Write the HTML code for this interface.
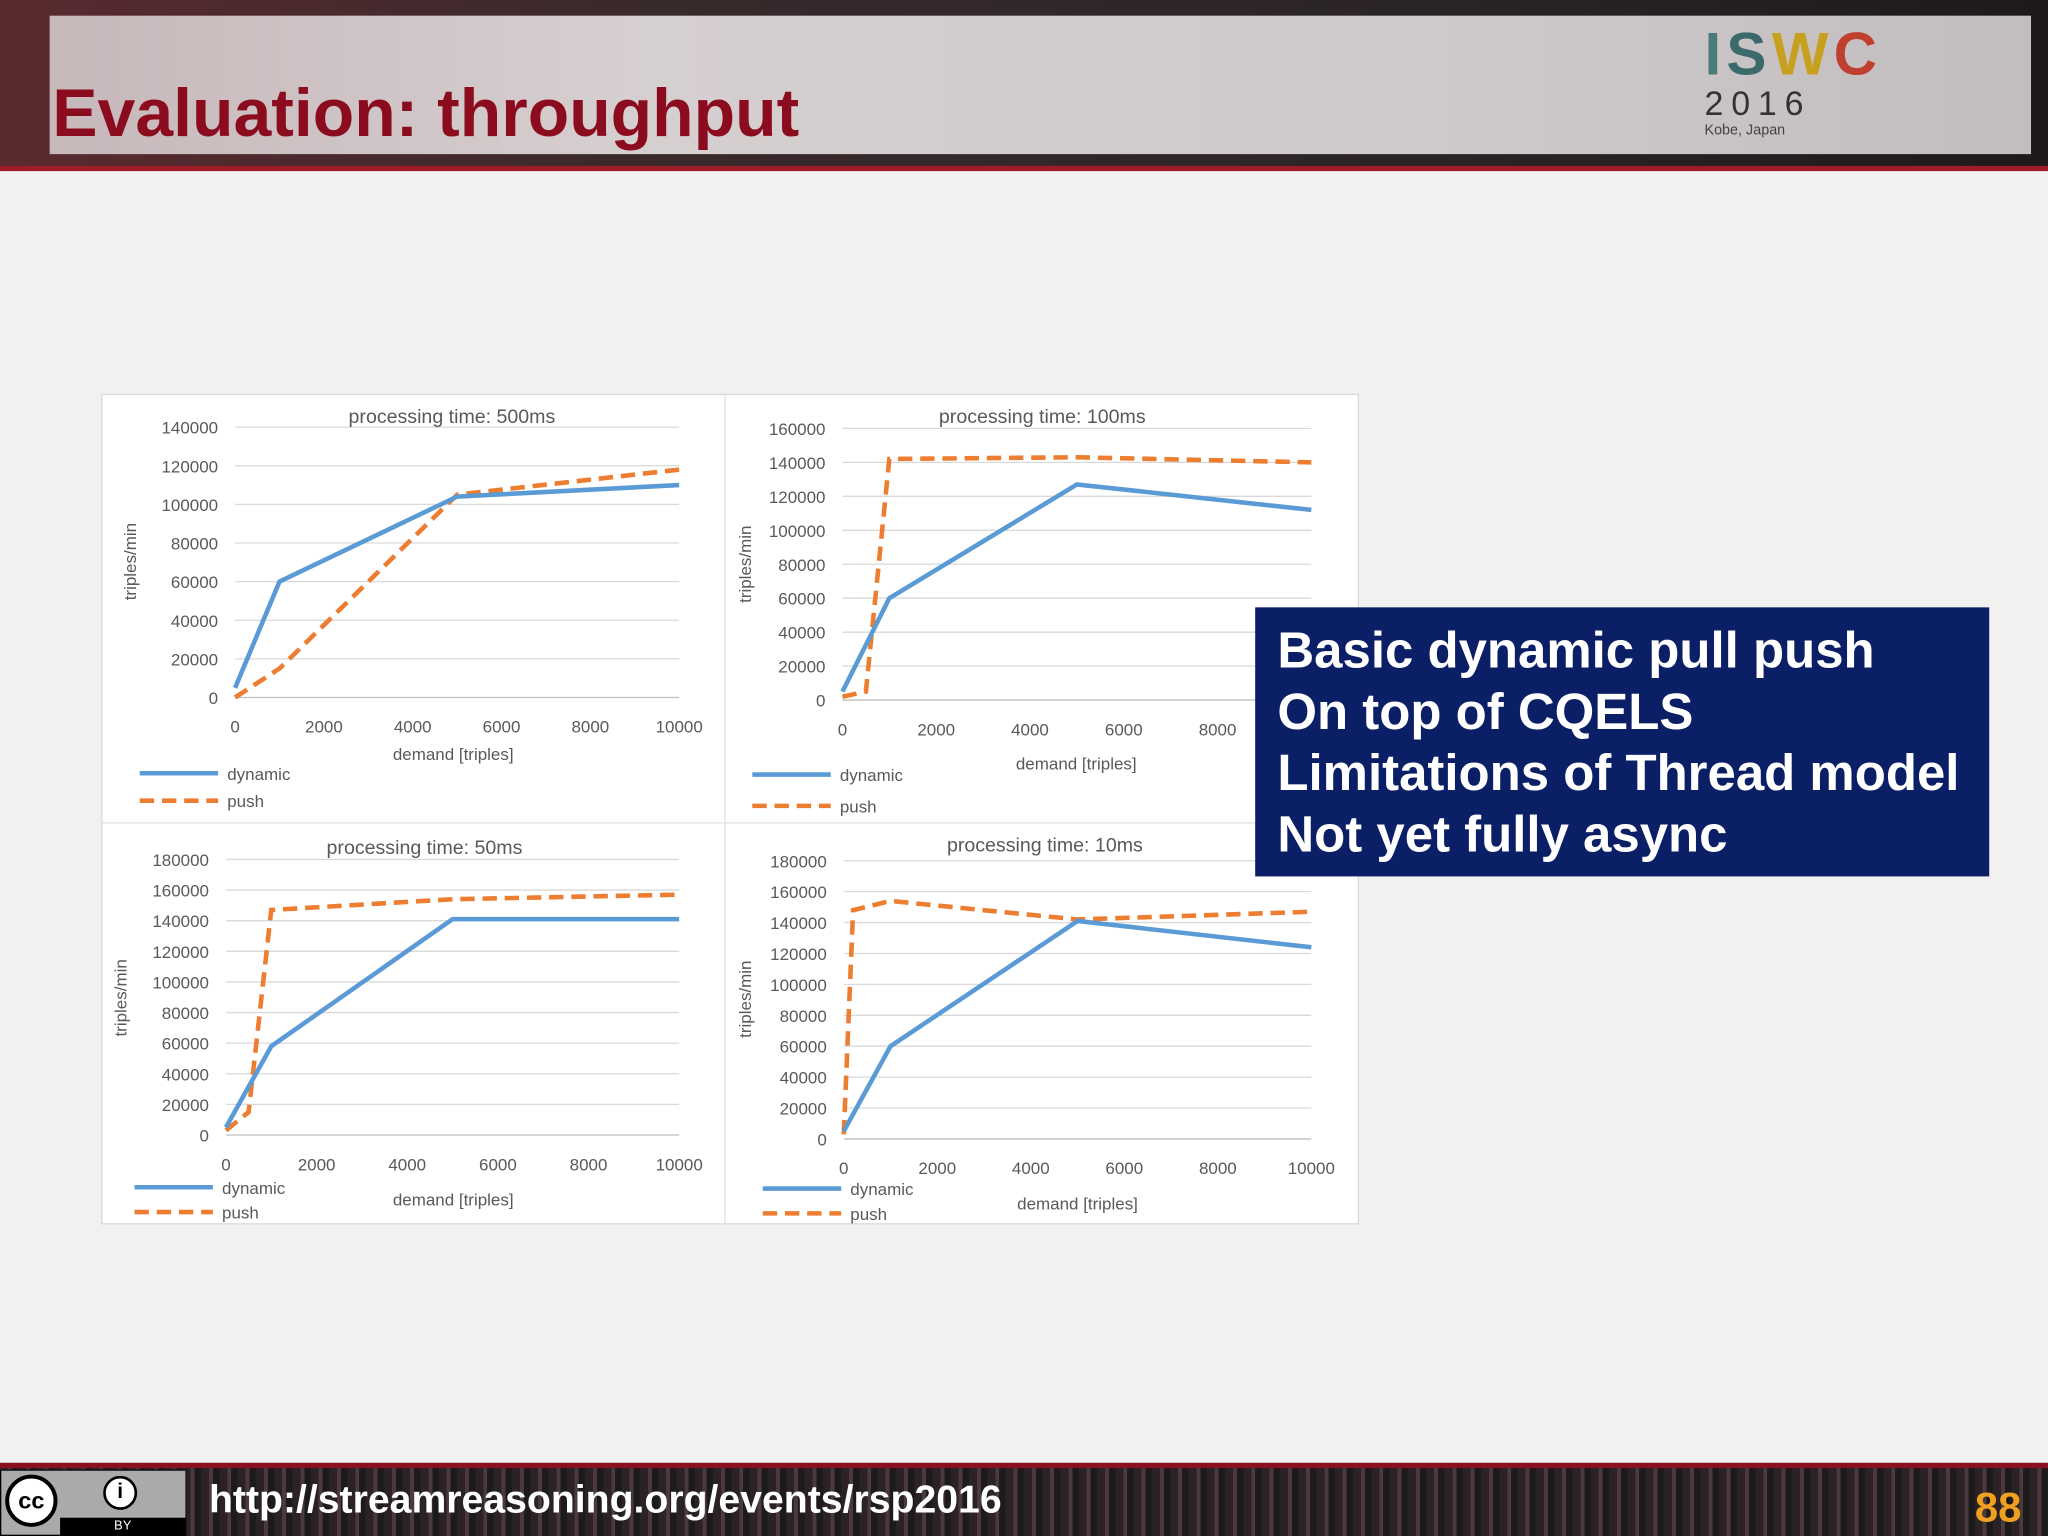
<!DOCTYPE html>
<html><head><meta charset="utf-8">
<style>
html,body{margin:0;padding:0;width:2048px;height:1536px;overflow:hidden;background:#f2f1f2;}
#wrap{position:absolute;left:0;top:0;width:1568px;height:1176px;transform:scale(1.306122);transform-origin:0 0;font-family:"Liberation Sans",sans-serif;background:#f2f1f2;}
#hdr{position:absolute;left:0;top:0;width:1568px;height:130px;background:linear-gradient(90deg,#5a2a2e 0%,#3a2a2c 30%,#2a2426 70%,#1e1a1c 100%);}
#band{position:absolute;left:38px;top:12px;width:1517px;height:106px;background:linear-gradient(90deg,#c7b8ba 0%,#d6cfd0 30%,#cfc9ca 70%,#c2bdbe 100%);}
#redline{position:absolute;left:0;top:127px;width:1568px;height:4px;background:#9e1b2a;}
#title{position:absolute;left:40px;top:57px;font-size:52px;font-weight:bold;color:#8c0c1f;}
#ftr{position:absolute;left:0;top:1120px;width:1568px;height:56px;background:repeating-linear-gradient(90deg,#2a2224 0 6px,#4a3a3c 6px 9px,#1c1a1a 9px 14px);}
#ftrline{position:absolute;left:0;top:1120px;width:1568px;height:4px;background:#8c1020;}
#box{position:absolute;left:961px;top:465px;width:562px;height:206px;background:#0b1f66;color:#fff;font-weight:bold;font-size:39px;line-height:47px;padding:10px 0 0 17px;box-sizing:border-box;}
</style></head>
<body>
<div id="wrap">
<div id="hdr"></div>
<div id="band"></div>
<div id="redline"></div>
<div id="title">Evaluation: throughput</div>
<div style="position:absolute;left:1305px;top:18px;width:170px;height:96px;">
 <div style="font-size:46px;font-weight:bold;letter-spacing:4px;color:#6a8a3a;line-height:46px;"><span style="color:#4a7a7a">I</span><span style="color:#3a6a6a">S</span><span style="color:#c8a020">W</span><span style="color:#c04030">C</span></div>
 <div style="font-size:26px;letter-spacing:6px;color:#333;line-height:30px;">2016</div>
 <div style="font-size:11px;color:#444;">Kobe, Japan</div>
</div>

<svg id="chart" style="position:absolute;left:0;top:0" width="1568" height="1176"></svg>

<div id="box">
<div>Basic dynamic pull push</div>
<div>On top of CQELS</div>
<div>Limitations of Thread model</div>
<div>Not yet fully async</div>
</div>

<div id="ftr"></div>
<div id="ftrline"></div>
<div style="position:absolute;left:0;top:1125px;width:143px;height:51px;background:#aaa;border:1px solid #000;box-sizing:border-box;">
 <div style="position:absolute;left:3px;top:3px;width:40px;height:40px;border-radius:50%;background:#fff;border:3px solid #000;box-sizing:border-box;font-weight:bold;font-size:18px;line-height:34px;text-align:center;">cc</div>
 <div style="position:absolute;left:78px;top:4px;width:26px;height:26px;border-radius:50%;background:#fff;border:2px solid #000;box-sizing:border-box;font-weight:bold;font-size:16px;line-height:22px;text-align:center;">i</div>
 <div style="position:absolute;left:45px;top:36px;width:96px;height:14px;background:#000;color:#fff;font-size:10px;text-align:center;line-height:14px;">BY</div>
</div>
<div style="position:absolute;left:160px;top:1132px;font-size:30px;font-weight:bold;color:#fff;">http://streamreasoning.org/events/rsp2016</div>
<div style="position:absolute;left:1512px;top:1136px;font-size:32px;font-weight:bold;color:#f0a020;">88</div>
</div>

<script>
// Panel 1: 500ms
const xVals1=[0,1000,5000,10000];
const dyn1=[5000,60000,104000,110000];
const pushX1=[0,1000,5000,10000];
const push1=[0,15000,105000,118000];
const yTicks1=[0,20000,40000,60000,80000,100000,120000,140000];
// Panel 2: 100ms
const xVals2=[0,1000,5000,10000];
const dyn2=[5000,60000,127000,112000];
const pushX2=[0,500,1000,5000,10000];
const push2=[2000,5000,142000,143000,140000];
const yTicks2=[0,20000,40000,60000,80000,100000,120000,140000,160000];
// Panel 3: 50ms
const xVals3=[0,1000,5000,10000];
const dyn3=[5000,58000,141000,141000];
const pushX3=[0,500,1000,5000,10000];
const push3=[3000,15000,147000,154000,157000];
const yTicks3=[0,20000,40000,60000,80000,100000,120000,140000,160000,180000];
// Panel 4: 10ms
const xVals4=[0,1000,5000,10000];
const dyn4=[5000,60000,141000,124000];
const pushX4=[0,200,1000,5000,10000];
const push4=[3000,148000,154000,142000,147000];
const yTicks4=[0,20000,40000,60000,80000,100000,120000,140000,160000,180000];
const xTicks=[0,2000,4000,6000,8000,10000];

const NS="http://www.w3.org/2000/svg";
const svg=document.getElementById('chart');
function mk(tag,attrs,parent){const e=document.createElementNS(NS,tag);for(const k in attrs)e.setAttribute(k,attrs[k]);(parent||svg).appendChild(e);return e;}

const bg=mk('rect',{x:78,y:302,width:962,height:635,fill:'#fff',stroke:'#d9d9d9'});


const d1=mk('line',{x1:555,y1:302,x2:555,y2:937,stroke:'#e0e0e0'});


const d2=mk('line',{x1:78,y1:630,x2:1040,y2:630,stroke:'#e0e0e0'});



function panel(p){
  const g=mk('g',{});
  
  
  const ymax=p.yTicks[p.yTicks.length-1];
  const xs=v=>p.x0+(v/10000)*(p.x1-p.x0);
  const ys=v=>p.y0-(v/ymax)*(p.y0-p.y1);
  p.yTicks.forEach(t=>{
    const l=mk('line',{x1:p.x0,x2:p.x1,y1:ys(t),y2:ys(t),stroke:t===0?'#bfbfbf':'#d9d9d9','stroke-width':1},g);
    
    
    const tx=mk('text',{x:p.x0-13,y:ys(t)+5,'text-anchor':'end','font-size':13,fill:'#595959','font-family':'Liberation Sans, sans-serif'},g);
    tx.textContent=t;
    
    
  });
  xTicks.forEach(t=>{
    const tx=mk('text',{x:xs(t),y:p.y0+27,'text-anchor':'middle','font-size':13,fill:'#595959','font-family':'Liberation Sans, sans-serif'},g);
    tx.textContent=t;
    
    
  });
  const tt=mk('text',{x:p.tx,y:p.ty,'text-anchor':'middle','font-size':15,fill:'#595959','font-family':'Liberation Sans, sans-serif'},g);
  tt.textContent=p.title;
  
  
  const xt=mk('text',{x:p.xtx,y:p.xty,'text-anchor':'middle','font-size':13,fill:'#595959','font-family':'Liberation Sans, sans-serif'},g);
  xt.textContent='demand [triples]';
  
  
  const yt=mk('text',{x:0,y:0,'text-anchor':'middle','font-size':13,fill:'#595959','font-family':'Liberation Sans, sans-serif',transform:`translate(${p.ytx},${p.yty}) rotate(-90)`},g);
  yt.textContent='triples/min';
  
  
  const pl=mk('polyline',{points:p.pushX.map((x,i)=>xs(x)+','+ys(p.push[i])).join(' '),fill:'none',stroke:'#ed7d31','stroke-width':3.5,'stroke-dasharray':'11 6'},g);
  
  
  const dl=mk('polyline',{points:p.xVals.map((x,i)=>xs(x)+','+ys(p.dyn[i])).join(' '),fill:'none',stroke:'#5b9bd5','stroke-width':3.5},g);
  
  
  const l1=mk('line',{x1:p.lx,x2:p.lx+60,y1:p.ly,y2:p.ly,stroke:'#5b9bd5','stroke-width':3.5},g);
  
  
  const lt1=mk('text',{x:p.lx+67,y:p.ly+5,'font-size':13,fill:'#595959','font-family':'Liberation Sans, sans-serif'},g);
  lt1.textContent='dynamic';
  
  
  const l2=mk('line',{x1:p.lx,x2:p.lx+60,y1:p.ly+p.lg,y2:p.ly+p.lg,stroke:'#ed7d31','stroke-width':3.5,'stroke-dasharray':'11 6'},g);
  
  
  const lt2=mk('text',{x:p.lx+67,y:p.ly+p.lg+5,'font-size':13,fill:'#595959','font-family':'Liberation Sans, sans-serif'},g);
  lt2.textContent='push';
  
  
}

panel({name:'chart-500ms',x0:180,x1:520,y0:534,y1:327,yTicks:yTicks1,xVals:xVals1,dyn:dyn1,pushX:pushX1,push:push1,title:'processing time: 500ms',tx:346,ty:324,xtx:347,xty:582,ytx:104,yty:430,lx:107,ly:592,lg:21});
panel({name:'chart-100ms',x0:645,x1:1004,y0:536,y1:328,yTicks:yTicks2,xVals:xVals2,dyn:dyn2,pushX:pushX2,push:push2,title:'processing time: 100ms',tx:798,ty:324,xtx:824,xty:589,ytx:575,yty:432,lx:576,ly:593,lg:24});
panel({name:'chart-50ms',x0:173,x1:520,y0:869,y1:658,yTicks:yTicks3,xVals:xVals3,dyn:dyn3,pushX:pushX3,push:push3,title:'processing time: 50ms',tx:325,ty:654,xtx:347,xty:923,ytx:97,yty:764,lx:103,ly:909,lg:19});
panel({name:'chart-10ms',x0:646,x1:1004,y0:872,y1:659,yTicks:yTicks4,xVals:xVals4,dyn:dyn4,pushX:pushX4,push:push4,title:'processing time: 10ms',tx:800,ty:652,xtx:825,xty:926,ytx:575,yty:765,lx:584,ly:910,lg:19});
</script>
</body></html>
